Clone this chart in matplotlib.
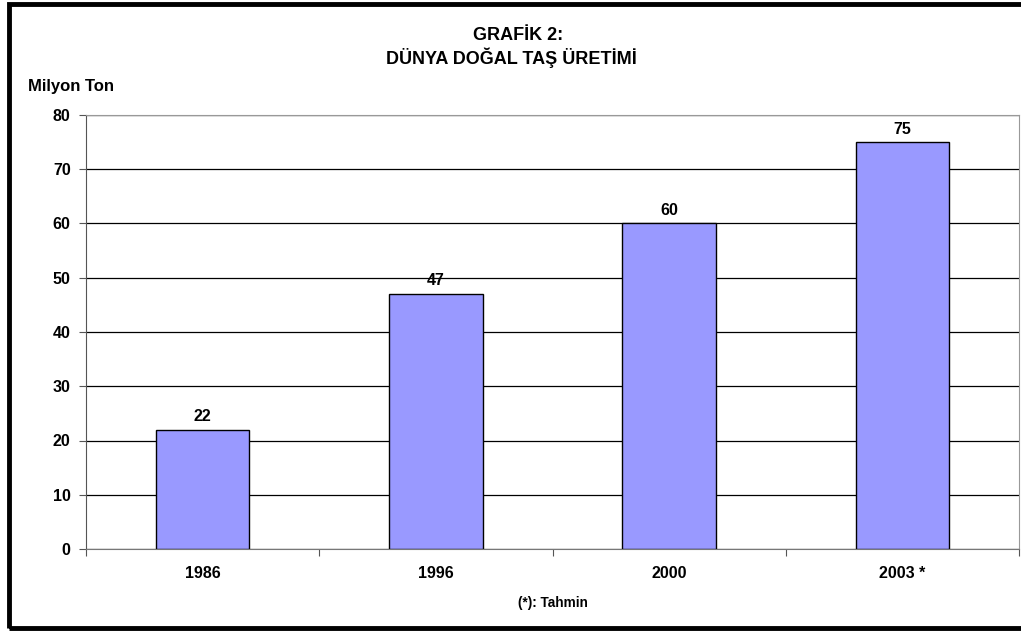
import matplotlib.pyplot as plt
import matplotlib.patches as patches
import numpy as np

years = ['1986', '1996', '2000', '2003 *']
production = [22, 47, 60, 75]

plt.rcParams['font.family'] = ['Liberation Sans', 'DejaVu Sans']
plt.rcParams['font.weight'] = 'bold'

fig = plt.figure(figsize=[10.21, 6.33], dpi=100)
ax = fig.add_axes([86/1021, 1 - 549/633, 933/1021, 434/633])

x = np.arange(len(years))
ax.set_axisbelow(True)
ax.yaxis.grid(True, color='black', linewidth=0.9)
bars = ax.bar(x, production, width=0.4, color='#9999FF', edgecolor='black', linewidth=1)
for xi, v in zip(x, production):
    ax.annotate(str(v), (xi, v), xytext=(0, 4), textcoords='offset points',
                ha='center', va='bottom', fontsize=11.5, fontweight='bold')

ax.set_xlim(-0.5, 3.5)
ax.set_ylim(0, 80)
ax.set_yticks(range(0, 81, 10))
ax.set_xticks(np.arange(-0.5, 4, 1))
ax.set_xticklabels([])
ax.set_xticks(x, minor=True)
ax.set_xticklabels(years, minor=True, fontsize=11.5, fontweight='bold')
ax.tick_params(axis='x', which='minor', length=0, pad=12)
ax.tick_params(axis='x', which='major', length=5, direction='out', color='#555555')
ax.tick_params(axis='y', length=5, direction='out', color='#555555', labelsize=11.5, pad=6)

for side in ['top', 'right']:
    ax.spines[side].set_color('#999999')
ax.spines['left'].set_color('#555555')
ax.spines['bottom'].set_color('#777777')

fig.text(518/1021, 1 - 40/633, 'GRAFİK 2:', ha='center', va='baseline', fontsize=13, fontweight='bold')
fig.text(511/1021, 1 - 64/633, 'DÜNYA DOĞAL TAŞ ÜRETİMİ', ha='center', va='baseline', fontsize=13, fontweight='bold')
fig.text(28/1021, 1 - 87/633, 'Milyon Ton', ha='left', va='center', fontsize=12, fontweight='bold')
fig.text(553/1021, 1 - 603/633, '(*): Tahmin', ha='center', va='center', fontsize=9.8, fontweight='bold')

border = patches.Rectangle((9/1021, 1 - 628/633), 1.05, 624/633, transform=fig.transFigure,
                           fill=False, edgecolor='black', linewidth=3.5, clip_on=False)
fig.patches.append(border)

fig.savefig('out.png', dpi=100)
